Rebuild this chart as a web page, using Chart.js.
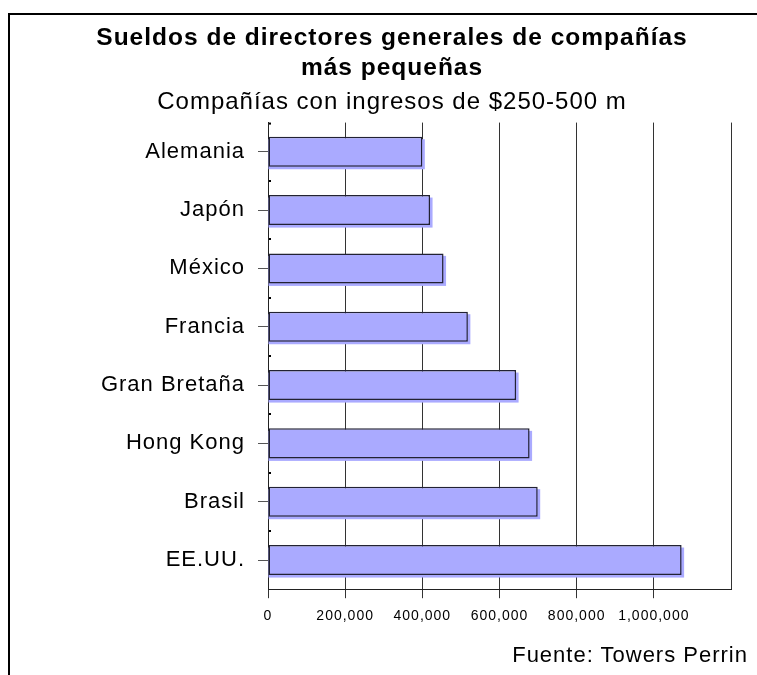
<!DOCTYPE html>
<html>
<head>
<meta charset="utf-8">
<script src="https://cdn.jsdelivr.net/npm/chart.js@4"></script>
<style>
  html, body { margin: 0; padding: 0; width: 757px; height: 675px; overflow: hidden; background: #fff; }
  #frame { position: absolute; left: 8px; top: 13px; width: 900px; height: 900px; border: 2px solid #000; box-sizing: border-box; }
  #chart { position: absolute; left: 0; top: 0; }
  #source { position: absolute; left: 0; top: 642px; width: 748px; text-align: right;
            font: 22px "Liberation Sans", Arial, sans-serif; letter-spacing: 1px; color: #000; }
</style>
</head>
<body>
<div id="frame"></div>
<canvas id="chart" width="757" height="675"></canvas>
<div id="source">Fuente: Towers Perrin</div>
<script>
const categories = ['Alemania', 'Japón', 'México', 'Francia', 'Gran Bretaña', 'Hong Kong', 'Brasil', 'EE.UU.'];
const salaries = [400000, 420000, 455000, 518000, 643000, 678000, 699000, 1072000];
const tickValues = [0, 200000, 400000, 600000, 800000, 1000000];
const tickLabels = ['0', '200,000', '400,000', '600,000', '800,000', '1,000,000'];
const axisMax = 1200000;
const titleLines = ['Sueldos de directores generales de compañías', 'más pequeñas'];
const subtitleText = 'Compañías con ingresos de $250-500 m';

const spacingPlugin = {
  id: 'spacing',
  beforeDraw(chart) { chart.ctx.letterSpacing = '1px'; },
  afterDraw(chart) { chart.ctx.letterSpacing = '0px'; }
};

// light-blue offset shadow behind each bar, taken from the library's bar geometry
const shadowPlugin = {
  id: 'barShadow',
  beforeDatasetsDraw(chart) {
    const ctx = chart.ctx;
    const meta = chart.getDatasetMeta(0);
    ctx.save();
    ctx.fillStyle = '#AAAAFF';
    meta.data.forEach(bar => {
      const p = bar.getProps(['x', 'y', 'base', 'height'], true);
      const left = Math.min(p.x, p.base);
      const w = Math.abs(p.x - p.base);
      ctx.fillRect(left, p.y - p.height / 2 + 2.5, w + 2.5, p.height);
    });
    ctx.restore();
  }
};

const dotsPlugin = {
  id: 'boundaryDots',
  afterDraw(chart) {
    const y = chart.scales.y;
    const ctx = chart.ctx;
    const n = categories.length;
    const step = (y.bottom - y.top) / n;
    ctx.save();
    ctx.fillStyle = '#000';
    for (let i = 0; i < n - 1; i++) {
      const py = y.getPixelForValue(i) + step / 2;
      ctx.fillRect(y.right + 1, Math.round(py) - 1, 2, 2);
    }
    ctx.fillRect(y.right + 1, y.top, 2, 2);
    ctx.restore();
  }
};

new Chart(document.getElementById('chart'), {
  type: 'bar',
  data: {
    labels: categories,
    datasets: [{
      data: salaries,
      backgroundColor: '#AAAAFF',
      borderColor: '#222233',
      borderWidth: 1.5,
      borderSkipped: false,
      barPercentage: 0.515,
      categoryPercentage: 1
    }]
  },
  options: {
    indexAxis: 'y',
    responsive: false,
    animation: false,
    layout: { padding: { left: 53, right: 26, top: 0, bottom: 40 } },
    plugins: {
      legend: { display: false },
      tooltip: { enabled: false },
      title: {
        display: true,
        text: titleLines,
        color: '#000',
        font: { family: '"Liberation Sans", Arial, sans-serif', size: 24.5, weight: 'bold', lineHeight: 1.22 },
        padding: { top: 23, bottom: 0 }
      },
      subtitle: {
        display: true,
        text: subtitleText,
        color: '#000',
        font: { family: '"Liberation Sans", Arial, sans-serif', size: 24, weight: 'normal', lineHeight: 1.2 },
        padding: { top: 5, bottom: 6 }
      }
    },
    scales: {
      x: {
        type: 'linear',
        min: 0,
        max: axisMax,
        afterBuildTicks(scale) { scale.ticks = tickValues.concat([axisMax]).map(v => ({ value: v })); },
        ticks: {
          color: '#000',
          font: { family: '"Liberation Sans", Arial, sans-serif', size: 14 },
          padding: 10,
          maxRotation: 0,
          autoSkip: false,
          callback(value) {
            const i = tickValues.indexOf(value);
            return i >= 0 ? tickLabels[i] : '';
          }
        },
        grid: {
          color: '#333',
          lineWidth: 1,
          tickLength: 9,
          tickColor: (ctx) => (ctx.tick && ctx.tick.value === axisMax ? 'rgba(0,0,0,0)' : '#333')
        },
        border: { display: true, color: '#222', width: 1 }
      },
      y: {
        afterFit(scale) { scale.width = 215; },
        ticks: {
          color: '#000',
          font: { family: '"Liberation Sans", Arial, sans-serif', size: 22 },
          padding: 13,
          autoSkip: false
        },
        grid: {
          drawOnChartArea: false,
          drawTicks: true,
          tickLength: 10,
          offset: false,
          tickColor: '#555'
        },
        border: { display: true, color: '#222', width: 1 }
      }
    }
  },
  plugins: [spacingPlugin, shadowPlugin, dotsPlugin]
});
</script>
</body>
</html>
